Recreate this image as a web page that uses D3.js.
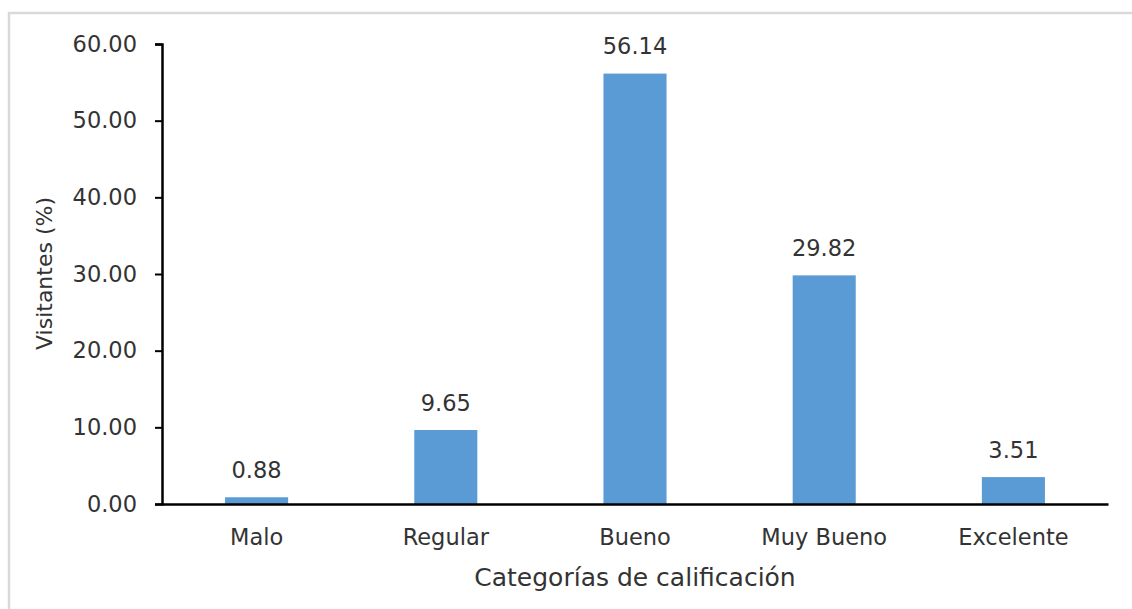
<!DOCTYPE html>
<html>
<head>
<meta charset="utf-8">
<script src="https://cdn.jsdelivr.net/npm/d3@7"></script>
<style>
  html, body { margin: 0; padding: 0; background: #fff; }
  svg { display: block; }
  text { font-family: "DejaVu Sans", sans-serif; fill: #333; }
</style>
</head>
<body>
<svg id="chart" width="1132" height="609"></svg>
<script>
// Distribución de visitantes por categoría de calificación
const categories = ["Malo", "Regular", "Bueno", "Muy Bueno", "Excelente"];
const visitantes = [0.88, 9.65, 56.14, 29.82, 3.51];
const yTicks = [0, 10, 20, 30, 40, 50, 60];
const yTitle = "Visitantes (%)";
const xTitle = "Categorías de calificación";

const svg = d3.select("#chart");
const FONT = "\"DejaVu Sans\", sans-serif";
const LABEL_SIZE = 22.5;

// light frame around the chart area
svg.append("rect")
  .attr("x", 9).attr("y", 13)
  .attr("width", 1140).attr("height", 620)
  .attr("fill", "none")
  .attr("stroke", "#d9d9d9")
  .attr("stroke-width", 2.5);

const plotLeft = 162, plotRight = 1108, plotTop = 44, plotBottom = 504;

const x = d3.scaleBand().domain(categories).range([plotLeft, plotRight]).padding(0);
const y = d3.scaleLinear().domain([0, 60]).range([plotBottom, plotTop]);
const barW = x.bandwidth() / 3;

// bars
svg.append("g").selectAll("rect")
  .data(categories)
  .join("rect")
  .attr("x", (d) => x(d) + (x.bandwidth() - barW) / 2)
  .attr("y", (d, i) => y(visitantes[i]))
  .attr("width", barW)
  .attr("height", (d, i) => plotBottom - y(visitantes[i]))
  .attr("fill", "#5b9bd5");

// value labels
svg.append("g").selectAll("text")
  .data(categories)
  .join("text")
  .attr("x", (d) => x(d) + x.bandwidth() / 2)
  .attr("y", (d, i) => y(visitantes[i]) - 19.5)
  .attr("text-anchor", "middle")
  .attr("font-size", LABEL_SIZE)
  .text((d, i) => visitantes[i].toFixed(2));

// y axis
const yAxis = svg.append("g")
  .attr("transform", `translate(${plotLeft},0)`)
  .call(d3.axisLeft(y).tickValues(yTicks).tickFormat(d3.format(".2f")).tickSize(7).tickPadding(18));
yAxis.select(".domain").attr("stroke", "#000").attr("stroke-width", 2.5);
yAxis.selectAll(".tick line").attr("stroke", "#000").attr("stroke-width", 2);
yAxis.selectAll(".tick text").attr("font-size", LABEL_SIZE).attr("fill", "#333")
  .attr("font-family", FONT);

// x axis
const xAxis = svg.append("g")
  .attr("transform", `translate(0,${plotBottom})`)
  .call(d3.axisBottom(x).tickSize(0).tickPadding(25));
xAxis.select(".domain").attr("stroke", "#000").attr("stroke-width", 2.5);
xAxis.selectAll(".tick text").attr("font-size", LABEL_SIZE).attr("fill", "#333")
  .attr("font-family", FONT);

// axis titles
svg.append("text")
  .attr("x", (plotLeft + plotRight) / 2)
  .attr("y", 586)
  .attr("text-anchor", "middle")
  .attr("font-size", 25)
  .text(xTitle);

svg.append("text")
  .attr("transform", `translate(52,${(195 + 352) / 2}) rotate(-90)`)
  .attr("text-anchor", "middle")
  .attr("font-size", 22)
  .text(yTitle);
</script>
</body>
</html>
